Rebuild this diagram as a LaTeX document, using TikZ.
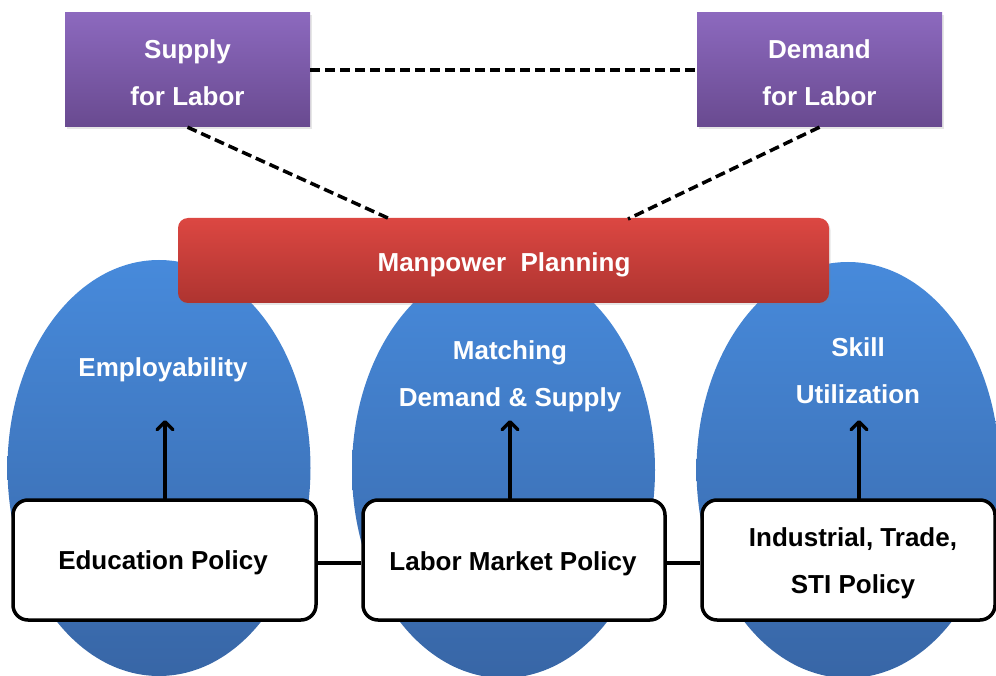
\documentclass[tikz,border=0pt]{standalone}
\usepackage{fontspec}
\setmainfont{Liberation Sans}
\usetikzlibrary{arrows.meta,shapes.geometric,shadows,calc}
\definecolor{purpT}{HTML}{8C69BE}
\definecolor{purpB}{HTML}{694A90}
\definecolor{redT}{HTML}{DC4742}
\definecolor{redB}{HTML}{AE3430}
\definecolor{bluT}{HTML}{478ADB}
\definecolor{bluB}{HTML}{3866A6}
\tikzset{
  lbl/.style={font=\fontsize{26}{47}\selectfont\bfseries, align=center},
  wlbl/.style={lbl, text=white},
  blbl/.style={lbl, text=black},
  purpbox/.style={rectangle, minimum width=245pt, minimum height=114pt,
    top color=purpT, bottom color=purpB, draw=none,
    drop shadow={opacity=0.2, shadow xshift=1.5pt, shadow yshift=-2pt}},
  redbar/.style={rectangle, rounded corners=10pt, minimum width=651pt, minimum height=85pt,
    top color=redT, bottom color=redB, draw=none,
    drop shadow={opacity=0.2, shadow xshift=1.5pt, shadow yshift=-2pt}},
  blob/.style={ellipse, minimum width=303pt, minimum height=416pt, inner sep=0pt,
    top color=bluT, bottom color=bluB, draw=none},
  polbox/.style={rectangle, rounded corners=15pt, minimum height=120pt,
    fill=white, draw=black, line width=3.5pt},
  dashlink/.style={draw=black, line width=3.5pt, dash pattern=on 10pt off 5pt},
  solidlink/.style={draw=black, line width=3.5pt},
  uparrow/.style={draw=black, line width=3.5pt, line cap=round,
    -{Straight Barb[length=8pt,width=16pt,line width=3.5pt,round]}}
}
\begin{document}
\begin{tikzpicture}[x=1pt,y=-1pt]
\useasboundingbox (0,0) rectangle (996,676);
\clip (0,0) rectangle (996,676);
% ellipses
\node[blob] (e1) at (159,468) {};
\node[blob] (e2) at (503.5,470) {};
\node[blob] (e3) at (848,470) {};
% top boxes
\node[purpbox] (sup) at (187.5,70) {};
\node[purpbox] (dem) at (819.5,70) {};
\node[wlbl] at ($(sup.center)+(0,2.5)$) {Supply\\for Labor};
\node[wlbl] at ($(dem.center)+(0,2.5)$) {Demand\\for Labor};
% red bar
\node[redbar] (mp) at (503.5,260.5) {};
\node[wlbl] (mpt) at (504,265) {Manpower\ \ Planning};
% dashed links
\coordinate (mpL) at (390,219);
\coordinate (mpR) at (628,219);
\draw[dashlink] (sup.east) -- (dem.west);
\draw[dashlink] (sup.south) -- (mpL);
\draw[dashlink] (dem.south) -- (mpR);
% ellipse labels
\node[wlbl] (t1) at (163,370) {Employability};
\node[wlbl] (t2) at (510,376) {Matching\\Demand \& Supply};
\node[wlbl] (t3) at (858,371) {Skill\\Utilization};
% policy boxes
\node[polbox, minimum width=303pt] (edu) at (164.5,560) {};
\node[polbox, minimum width=302pt] (lab) at (514,560) {};
\node[polbox, minimum width=293pt] (ind) at (848.5,560) {};
\node[blbl] at (163,563) {Education Policy};
\node[blbl] at (513,564) {Labor Market Policy};
\node[blbl] at (853,563) {Industrial, Trade,\\STI Policy};
% connectors
\draw[solidlink] ($(edu.east)+(0,3)$) -- ($(lab.west)+(0,3)$);
\draw[solidlink] ($(lab.east)+(0,3)$) -- ($(ind.west)+(0,3)$);
% arrows
\coordinate (a1) at (165,420);
\coordinate (a2) at (510,420);
\coordinate (a3) at (859,420);
\draw[uparrow] (a1 |- edu.north) -- (a1);
\draw[uparrow] (a2 |- lab.north) -- (a2);
\draw[uparrow] (a3 |- ind.north) -- (a3);
\end{tikzpicture}
\end{document}
